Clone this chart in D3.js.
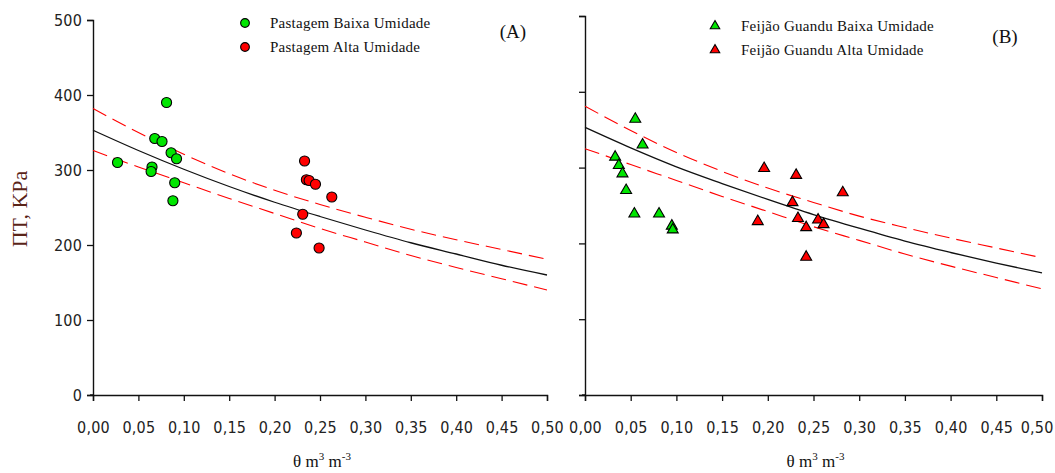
<!DOCTYPE html>
<html>
<head>
    <meta charset="utf-8">
    <title>Pressão vs umidade</title>
    <script src="https://d3js.org/d3.v7.min.js"></script>
    <style>
        body { margin: 0; background: #fff; }
        .tick-label { font: 16px "DejaVu Sans Condensed", "DejaVu Sans", sans-serif; font-stretch: condensed; fill: #222; letter-spacing: 0.2px; }
        .legend { font: 15px "Liberation Serif", serif; fill: #111; letter-spacing: 0.25px; }
        .panel-tag { font: 19px "Liberation Serif", serif; fill: #111; }
        .axis-title { font: 17px "Liberation Serif", serif; fill: #111; }
        .band { fill: none; stroke: #ff0000; stroke-width: 1.1px; stroke-dasharray: 15 7; }
        .fit { fill: none; stroke: #111; stroke-width: 1.3px; }
    </style>
</head>
<body>
<svg id="chart" width="1055" height="473"></svg>
<script>
    // tick values
    const xTicks = [0, 0.05, 0.10, 0.15, 0.20, 0.25, 0.30, 0.35, 0.40, 0.45, 0.50];
    const yTicks = [0, 100, 200, 300, 400, 500];

    // (A) pastagem: [theta, pressure]
    const pastagemBaixa = [
        [0.027, 310], [0.081, 390], [0.068, 342], [0.076, 338], [0.086, 323],
        [0.092, 315], [0.065, 304], [0.064, 298], [0.090, 283], [0.088, 259]
    ];
    const pastagemAlta = [
        [0.233, 312], [0.235, 287], [0.238, 286], [0.245, 281], [0.263, 264],
        [0.231, 241], [0.224, 216], [0.249, 196]
    ];

    // (B) feijão guandu
    const guanduBaixa = [
        [0.055, 364], [0.063, 330], [0.033, 314], [0.037, 303], [0.041, 292],
        [0.045, 270], [0.054, 239], [0.081, 239], [0.095, 223], [0.096, 218]
    ];
    const guanduAlta = [
        [0.196, 299], [0.231, 290], [0.282, 267], [0.227, 254], [0.233, 233],
        [0.189, 229], [0.255, 231], [0.261, 225], [0.242, 221], [0.242, 182]
    ];

    // fitted curve and confidence band, read at each x tick
    const curveX = xTicks;
    const fitA   = [353, 326, 301, 278, 257, 238, 220, 203, 188, 173, 160];
    const upperA = [382, 350, 321, 295, 273, 254, 237, 221, 207, 194, 181];
    const lowerA = [326, 304, 283, 262, 242, 222, 204, 186, 170, 155, 140];
    const fitB   = [353, 326, 301, 279, 258, 238, 220, 203, 188, 174, 161];
    const upperB = [381, 349, 320, 295, 273, 254, 236, 221, 207, 194, 181];
    const lowerB = [325, 304, 283, 262, 242, 222, 204, 186, 170, 155, 140];

    const svg = d3.select("#chart");
    const fmt = d => d3.format(".2f")(d).replace(".", ",");

    const panels = [
        { left: 93, right: 547, top: 20, bottom: 395, labels: true,
          low: pastagemBaixa, high: pastagemAlta, fit: fitA, upper: upperA, lower: lowerA,
          shape: "circle", tag: "(A)", tagX: 513, tagY: 38,
          legX: 245, legY: [23, 47], legText: ["Pastagem Baixa Umidade", "Pastagem Alta Umidade"], legDx: 25 },
        { left: 585, right: 1042, top: 16, bottom: 395, labels: false,
          low: guanduBaixa, high: guanduAlta, fit: fitB, upper: upperB, lower: lowerB,
          shape: "triangle", tag: "(B)", tagX: 1005, tagY: 43,
          legX: 715, legY: [26, 50], legText: ["Feijão Guandu Baixa Umidade", "Feijão Guandu Alta Umidade"], legDx: 26 }
    ];

    panels.forEach((p, pi) => {
        const x = d3.scaleLinear().domain([0, 0.5]).range([p.left, p.right]);
        const y = d3.scaleLinear().domain([0, 500]).range([p.bottom, p.top]);
        const g = svg.append("g");

        // axes
        const yAxis = g.append("g").attr("transform", `translate(${p.left},0)`)
            .call(d3.axisLeft(y).tickValues(yTicks).tickSize(6).tickFormat(p.labels ? d3.format("d") : ""));
        const xAxis = g.append("g").attr("transform", `translate(0,${p.bottom})`)
            .call(d3.axisBottom(x).tickValues(xTicks).tickSize(6).tickFormat(fmt));
        [yAxis, xAxis].forEach(a => {
            a.select(".domain").attr("stroke", "#111").attr("stroke-width", 1.4);
            a.selectAll(".tick line").attr("stroke", "#111").attr("stroke-width", 1.3);
            a.selectAll(".tick text").attr("class", "tick-label").attr("font-size", null).attr("font-family", null);
        });
        // x axis line extends a bit to the left in the original
        g.append("line").attr("x1", p.left - 3).attr("x2", p.left).attr("y1", p.bottom).attr("y2", p.bottom)
            .attr("stroke", "#111").attr("stroke-width", 1.4);
        xAxis.selectAll(".tick text").attr("dy", null).attr("y", 38);
        // last label of the right panel sits against the page edge
        if (pi === 1) {
            xAxis.selectAll(".tick text").filter(d => d === 0.5)
                .attr("text-anchor", "end").attr("x", 11);
        }
        yAxis.selectAll(".tick text").attr("x", -11);

        // curves
        const line = vals => d3.line().curve(d3.curveMonotoneX)
            .x((d, i) => x(curveX[i])).y(d => y(d))(vals);
        g.append("path").attr("class", "band").attr("d", line(p.upper));
        g.append("path").attr("class", "band").attr("d", line(p.lower));
        g.append("path").attr("class", "fit").attr("d", line(p.fit));

        // points
        const sym = p.shape === "circle" ? d3.symbolCircle : d3.symbolTriangle;
        const size = p.shape === "circle" ? 80 : 52;
        const drawPts = (data, color) => g.selectAll(null).data(data).enter().append("path")
            .attr("d", d3.symbol(sym, size))
            .attr("transform", d => `translate(${x(d[0])},${y(d[1])})`)
            .attr("fill", color).attr("stroke", "#000").attr("stroke-width", 1.1);
        drawPts(p.low, "#00e600");
        drawPts(p.high, "#ff0000");

        // legend
        ["#00e600", "#ff0000"].forEach((c, i) => {
            g.append("path").attr("d", d3.symbol(sym, size * 0.75))
                .attr("transform", `translate(${p.legX},${p.legY[i]})`)
                .attr("fill", c).attr("stroke", "#000").attr("stroke-width", 1.1);
            g.append("text").attr("class", "legend")
                .attr("x", p.legX + p.legDx).attr("y", p.legY[i] + 5)
                .text(p.legText[i]);
        });
        g.append("text").attr("class", "panel-tag").attr("x", p.tagX).attr("y", p.tagY)
            .attr("text-anchor", "middle").text(p.tag);

        // x title
        const t = g.append("text").attr("class", "axis-title")
            .attr("x", (p.left + p.right) / 2 + 2).attr("y", 467).attr("text-anchor", "middle");
        t.append("tspan").text("θ m");
        t.append("tspan").attr("dy", -7).attr("font-size", 11).text("3");
        t.append("tspan").attr("dy", 7).text(" m");
        t.append("tspan").attr("dy", -7).attr("font-size", 11).text("-3");
    });

    // y title
    svg.append("text")
        .attr("transform", "translate(27,209) rotate(-90)")
        .attr("text-anchor", "middle")
        .attr("fill", "#5a2418")
        .style("font", "22px 'Liberation Serif', serif")
        .text("ΠT, KPa");
</script>
</body>
</html>
